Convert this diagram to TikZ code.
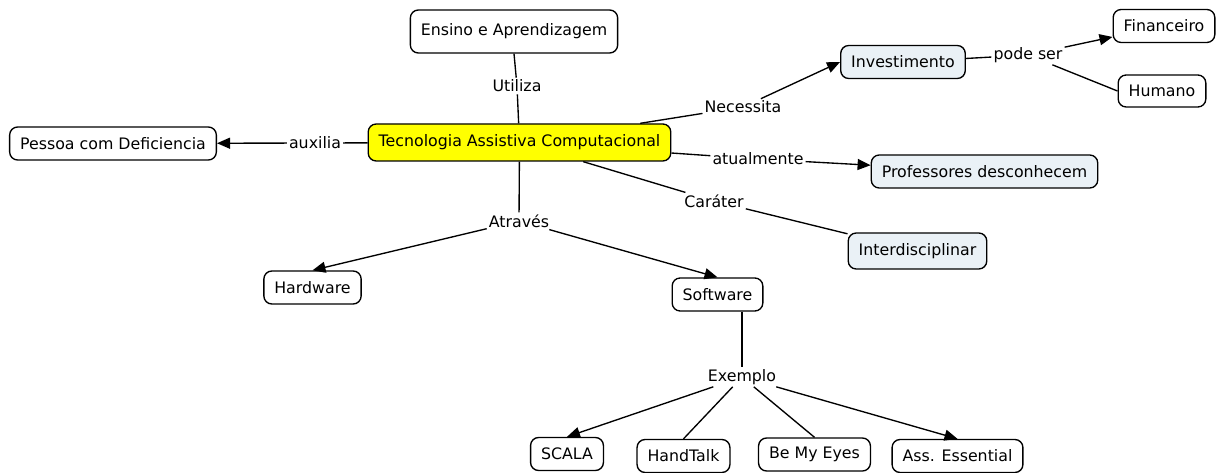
\documentclass[tikz,border=0pt]{standalone}
\usepackage{fontspec}
\setmainfont{DejaVu Sans}
\usetikzlibrary{arrows.meta}

\definecolor{cmapyellow}{RGB}{255,255,0}
\definecolor{cmapblue}{RGB}{234,241,246}

\begin{document}
\begin{tikzpicture}[x=1pt, y=-1pt, line width=1.35pt,
    concept/.style={draw, rounded corners=8pt, fill=white, minimum height=33pt,
        inner xsep=10.5pt, font=\fontsize{15.8}{18}\selectfont},
    phrase/.style={inner sep=1.5pt, font=\fontsize{15.8}{18}\selectfont},
    arr/.style={-{Triangle[length=13pt, width=11pt]}}]
    \useasboundingbox (0,0) rectangle (1219,473);

    % Concepts
    \node[concept, fill=cmapyellow, minimum height=37pt] (tac) at (519.5,142.5) {Tecnologia Assistiva Computacional};
    \node[concept, minimum height=43pt] (ensino) at (514,31.5) {Ensino e Aprendizagem};
    \node[concept] (pessoa) at (113,143.5) {Pessoa com Deficiencia};
    \node[concept, fill=cmapblue] (invest) at (903,62) {Investimento};
    \node[concept] (financ) at (1164,26) {Financeiro};
    \node[concept, minimum height=32pt] (humano) at (1162,91) {Humano};
    \node[concept, fill=cmapblue] (prof) at (984.5,171.5) {Professores desconhecem};
    \node[concept, fill=cmapblue, minimum height=36pt] (inter) at (917.5,251) {Interdisciplinar};
    \node[concept] (hard) at (312.5,287.5) {Hardware};
    \node[concept] (soft) at (717.5,294.5) {Software};
    \node[concept] (scala) at (567,454) {SCALA};
    \node[concept] (hand) at (683.5,456) {HandTalk};
    \node[concept] (eyes) at (814.5,454.5) {Be My Eyes};
    \node[concept] (ess) at (957.5,456) {Ass. Essential};

    % Linking phrases
    \node[phrase] (utiliza) at (517,86) {Utiliza};
    \node[phrase] (auxilia) at (315,143) {auxilia};
    \node[phrase] (necessita) at (743,107) {Necessita};
    \node[phrase] (podeser) at (1028,55) {pode ser};
    \node[phrase] (atual) at (758,159) {atualmente};
    \node[phrase] (carater) at (714,201) {Caráter};
    \node[phrase] (atraves) at (519,221) {Através};
    \node[phrase] (exemplo) at (742,377) {Exemplo};

    % Links
    \draw (tac) -- (utiliza);
    \draw (utiliza) -- (ensino.south);
    \draw (tac) -- (auxilia);
    \draw[arr] (auxilia) -- (pessoa);
    \draw (tac) -- (necessita);
    \draw[arr] (necessita) -- (invest.west);
    \draw (invest) -- (podeser);
    \draw[arr] (podeser) -- (financ.192);
    \draw (podeser) -- (humano.west);
    \draw (tac) -- (atual);
    \draw[arr] (atual) -- (prof);
    \draw (tac) -- (carater);
    \draw (carater) -- (inter);
    \draw (tac) -- (atraves);
    \draw[arr] (atraves) -- (hard.north);
    \draw[arr] (atraves) -- (soft.north);
    \draw (soft.south -| exemplo) -- (exemplo);
    \draw[arr] (exemplo) -- (scala.north);
    \draw (exemplo) -- (hand.north);
    \draw (exemplo) -- (eyes.north);
    \draw[arr] (exemplo) -- (ess.north);
\end{tikzpicture}
\end{document}
